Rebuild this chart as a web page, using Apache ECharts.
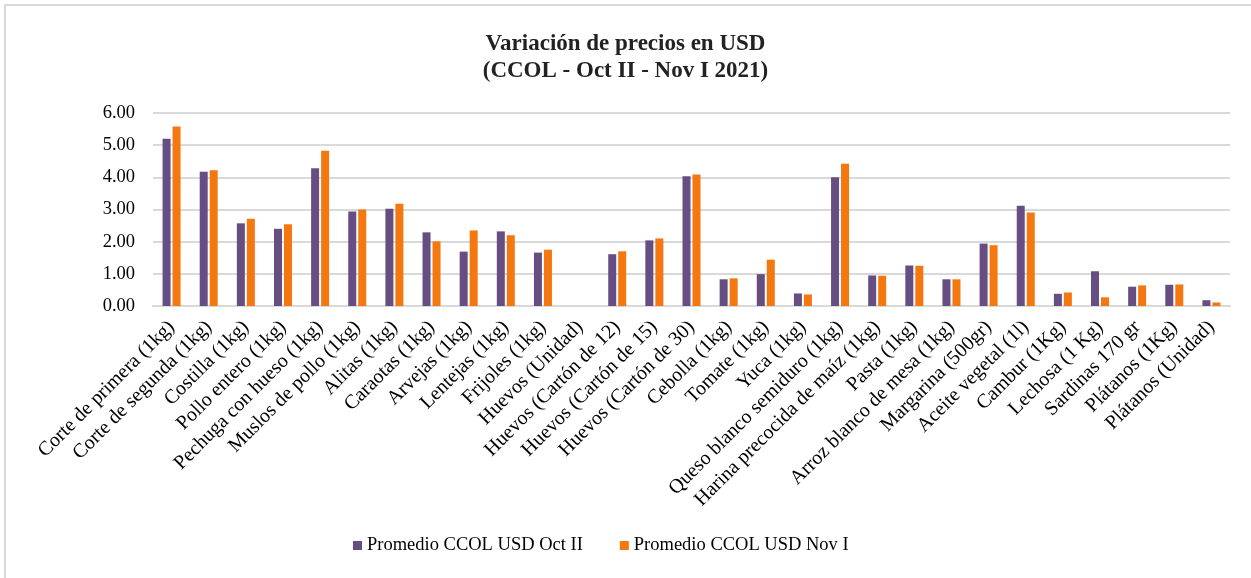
<!DOCTYPE html>
<html>
<head>
<meta charset="utf-8">
<script src="https://cdn.jsdelivr.net/npm/echarts@6/dist/echarts.min.js"></script>
<style>
  html, body { margin: 0; padding: 0; background: #fff; }
  #chart { width: 1251px; height: 578px; }
</style>
</head>
<body>
<div id="chart"></div>
<script>
const categories = [
  "Corte de primera (1kg)", "Corte de segunda (1kg)", "Costilla (1kg)", "Pollo entero (1kg)",
  "Pechuga con hueso (1kg)", "Muslos de pollo (1kg)", "Alitas (1kg)", "Caraotas (1kg)",
  "Arvejas (1kg)", "Lentejas (1kg)", "Frijoles (1kg)", "Huevos (Unidad)",
  "Huevos (Cartón de 12)", "Huevos (Cartón de 15)", "Huevos (Cartón de 30)", "Cebolla (1kg)",
  "Tomate (1kg)", "Yuca (1kg)", "Queso blanco semiduro (1kg)", "Harina precocida de maíz (1kg)",
  "Pasta (1kg)", "Arroz blanco de mesa (1kg)", "Margarina (500gr)", "Aceite vegetal (1l)",
  "Cambur (1Kg)", "Lechosa (1 Kg)", "Sardinas 170 gr", "Plátanos (1Kg)", "Plátanos (Unidad)"
];
const octII = [
  5.20, 4.17, 2.57, 2.40, 4.28, 2.94, 3.02, 2.29, 1.69, 2.32, 1.66, null,
  1.61, 2.04, 4.03, 0.83, 0.99, 0.39, 4.00, 0.95, 1.26, 0.83, 1.94, 3.12,
  0.38, 1.08, 0.60, 0.66, 0.18
];
const novI = [
  5.58, 4.22, 2.71, 2.54, 4.83, 3.00, 3.18, 2.01, 2.35, 2.20, 1.75, null,
  1.70, 2.10, 4.09, 0.86, 1.44, 0.36, 4.42, 0.94, 1.25, 0.83, 1.89, 2.91,
  0.42, 0.27, 0.64, 0.67, 0.11
];
const yTicks = [0, 1, 2, 3, 4, 5, 6];

const serif = "'Liberation Serif', 'DejaVu Serif', serif";
const chart = echarts.init(document.getElementById("chart"));

const option = {
  animation: false,
  backgroundColor: "#ffffff",
  title: {
    text: "Variación de precios en USD\n(CCOL - Oct II - Nov I 2021)",
    left: "center",
    top: 26,
    textStyle: {
      fontFamily: serif,
      fontSize: 23,
      fontWeight: "bold",
      color: "#222",
      lineHeight: 27
    }
  },
  graphic: [{
    type: "rect",
    shape: { x: 5, y: 5, width: 1270, height: 600 },
    style: { fill: "none", stroke: "#d9d9d9", lineWidth: 2 },
    silent: true
  }],
  legend: {
    bottom: 18,
    left: 348,
    itemWidth: 9,
    itemHeight: 9,
    itemGap: 37,
    icon: "rect",
    textStyle: { fontFamily: serif, fontSize: 18.5, color: "#000" }
  },
  grid: { left: 153, right: 21, top: 113, bottom: 272 },
  xAxis: {
    type: "category",
    data: categories,
    axisLine: { lineStyle: { color: "#d9d9d9", width: 2 } },
    axisTick: { show: false },
    axisLabel: {
      interval: 0,
      rotate: 45,
      margin: 18,
      fontFamily: serif,
      fontSize: 20,
      color: "#000"
    }
  },
  yAxis: {
    type: "value",
    min: yTicks[0],
    max: yTicks[yTicks.length - 1],
    interval: 1,
    axisLine: { show: false },
    axisTick: { show: false },
    splitLine: { lineStyle: { color: "#d9d9d9", width: 2 } },
    axisLabel: {
      margin: 18,
      fontFamily: serif,
      fontSize: 18.5,
      color: "#000",
      formatter: v => v.toFixed(2)
    }
  },
  series: [
    {
      name: "Promedio CCOL USD Oct II",
      type: "bar",
      data: octII,
      barWidth: 8,
      barGap: "25%",
      itemStyle: { color: "#664e82" }
    },
    {
      name: "Promedio CCOL USD Nov I",
      type: "bar",
      data: novI,
      barWidth: 8,
      barGap: "25%",
      itemStyle: { color: "#f4770f" }
    }
  ]
};

chart.setOption(option);
</script>
</body>
</html>
